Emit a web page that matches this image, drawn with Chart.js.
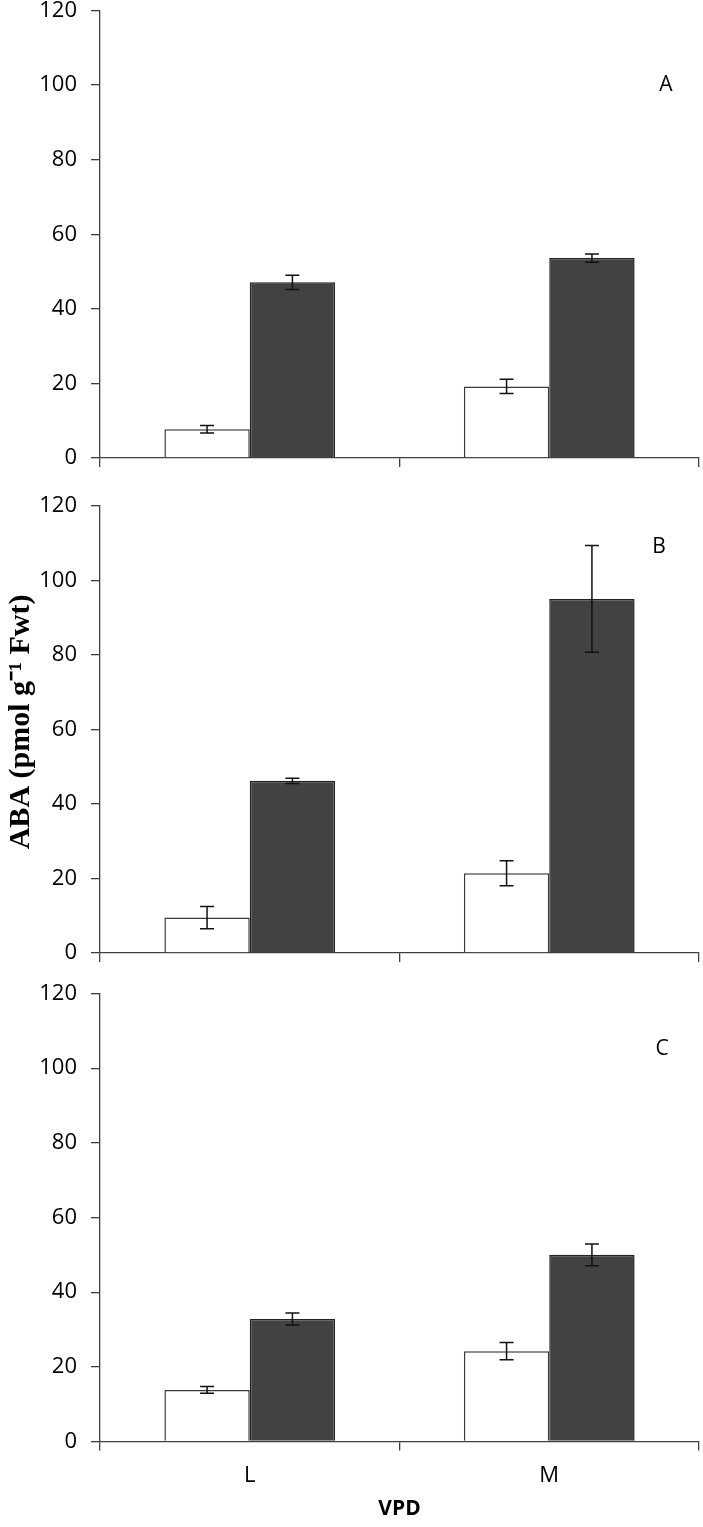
<!DOCTYPE html>
<html>
<head>
<meta charset="utf-8">
<script src="https://cdn.jsdelivr.net/npm/chart.js@4"></script>
<style>
  html, body { margin: 0; padding: 0; background: #fff; width: 703px; height: 1527px; overflow: hidden; }
  .panel { position: absolute; left: 0; width: 703px; }
</style>
</head>
<body>
<div class="panel" id="pA" style="top:-30px;height:528px"><canvas id="cA"></canvas></div>
<div class="panel" id="pB" style="top:470px;height:523px"><canvas id="cB"></canvas></div>
<div class="panel" id="pC" style="top:960px;height:562px"><canvas id="cC"></canvas></div>
<script>
// ---- data ----
const categories = ['L', 'M'];
const yTicks = [0, 20, 40, 60, 80, 100, 120];
const panelLabels = ['A', 'B', 'C'];

const whiteA = [7.7, 19.2];   const whiteErrA = [1.0, 1.9];
const darkA  = [47.1, 53.6];  const darkErrA  = [1.9, 1.1];

const whiteB = [9.5, 21.4];   const whiteErrB = [3.0, 3.35];
const darkB  = [46.2, 95.0];  const darkErrB  = [0.7, 14.3];

const whiteC = [13.8, 24.2];  const whiteErrC = [0.9, 2.3];
const darkC  = [32.8, 50.0];  const darkErrC  = [1.6, 2.9];

const yTitle = 'ABA (pmol g\u207B\u00B9 Fwt)';
const xTitle = 'VPD';

// ---- plugins ----
const errorBars = {
  id: 'errorBars',
  afterDatasetsDraw(chart) {
    const ctx = chart.ctx;
    const y = chart.scales.y;
    chart.data.datasets.forEach((ds, di) => {
      const meta = chart.getDatasetMeta(di);
      meta.data.forEach((bar, i) => {
        const v = ds.data[i], e = ds.errors[i];
        const yt = y.getPixelForValue(v + e), yb = y.getPixelForValue(v - e);
        const x = bar.x, cap = 7;
        ctx.save();
        ctx.strokeStyle = '#111';
        ctx.lineWidth = 1.5;
        ctx.beginPath();
        ctx.moveTo(x, yt); ctx.lineTo(x, yb);
        ctx.moveTo(x - cap, yt); ctx.lineTo(x + cap, yt);
        ctx.moveTo(x - cap, yb); ctx.lineTo(x + cap, yb);
        ctx.stroke();
        ctx.restore();
      });
    });
  }
};
const panelLetter = {
  id: 'panelLetter',
  afterDraw(chart, args, opts) {
    const ctx = chart.ctx;
    ctx.save();
    ctx.fillStyle = '#000';
    ctx.font = '21px "Open Sans", sans-serif';
    ctx.textAlign = 'center';
    ctx.textBaseline = 'middle';
    ctx.fillText(opts.text, opts.x, chart.scales.y.getPixelForValue(opts.v));
    if (opts.yTitle) {
      ctx.translate(21, chart.scales.y.getPixelForValue(opts.yTitleV));
      ctx.rotate(-Math.PI / 2);
      ctx.font = 'bold 30px "Liberation Serif", "Times New Roman", serif';
      ctx.fillText(opts.yTitle, 0, 0);
    }
    ctx.restore();
  }
};

function makeChart(id, white, whiteErr, dark, darkErr, letter, letterX, letterV, opts) {
  const tickFont = { family: '"Open Sans", sans-serif', size: 22 };
  return new Chart(document.getElementById(id), {
    type: 'bar',
    data: {
      labels: categories,
      datasets: [
        { data: white, errors: whiteErr, backgroundColor: '#ffffff', borderColor: '#3a3a3a', borderWidth: 1.5 },
        { data: dark, errors: darkErr, backgroundColor: '#424242', borderColor: '#222222', borderWidth: 1.5 }
      ]
    },
    options: {
      responsive: true,
      maintainAspectRatio: false,
      animation: false,
      events: [],
      layout: { padding: { top: opts.padTop, right: 4, bottom: 0, left: 0 } },
      datasets: { bar: { categoryPercentage: 0.57, barPercentage: 1.0 } },
      plugins: {
        legend: { display: false },
        tooltip: { enabled: false },
        panelLetter: { text: letter, x: letterX, v: letterV, yTitle: opts.yTitle, yTitleV: opts.yTitleV }
      },
      scales: {
        x: {
          offset: true,
          border: { display: true, color: '#404040', width: 1.3 },
          grid: { display: true, drawOnChartArea: false, drawTicks: true, tickLength: 9, color: '#404040', lineWidth: 1.3, offset: true },
          ticks: { display: opts.showX, color: '#000', font: tickFont, padding: 12 },
          title: { display: opts.showX, text: xTitle, color: '#000',
                   font: { family: '"Open Sans", sans-serif', size: 21, weight: 'bold' }, padding: { top: 0, bottom: 0 } },
          afterFit(s) { s.height = opts.xHeight; }
        },
        y: {
          min: 0, max: 120,
          afterBuildTicks(s) { s.ticks = yTicks.map(v => ({ value: v })); },
          border: { display: true, color: '#404040', width: 1.3 },
          grid: { display: true, drawOnChartArea: false, drawTicks: true, tickLength: 9, color: '#404040', lineWidth: 1.3 },
          ticks: { color: '#000', font: tickFont, padding: 14 },
          afterFit(s) { s.width = 100; }
        }
      }
    },
    plugins: [errorBars, panelLetter]
  });
}

makeChart('cA', whiteA, whiteErrA, darkA, darkErrA, panelLabels[0], 666, 100, { padTop: 40.5, xHeight: 40, showX: false });
makeChart('cB', whiteB, whiteErrB, darkB, darkErrB, panelLabels[1], 659, 109, { padTop: 35.7, xHeight: 40, showX: false, yTitle: yTitle, yTitleV: 62 });
makeChart('cC', whiteC, whiteErrC, darkC, darkErrC, panelLabels[2], 662, 105, { padTop: 33.5, xHeight: 80.5, showX: true });
</script>
</body>
</html>
